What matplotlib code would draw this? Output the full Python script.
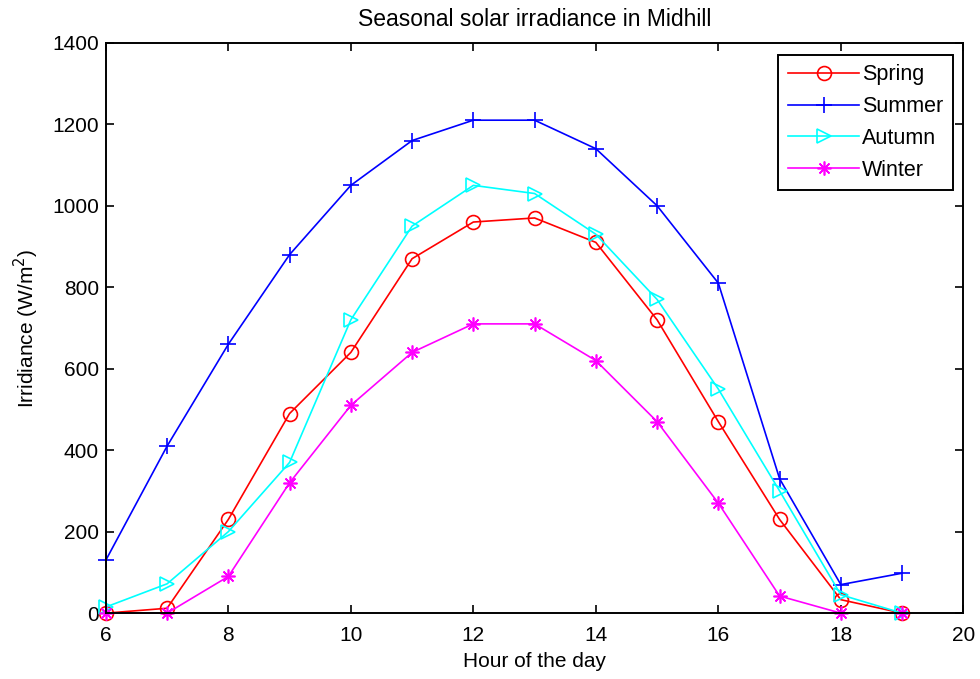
import matplotlib
matplotlib.use("Agg")
import matplotlib.pyplot as plt

plt.rcParams['font.family'] = ['Liberation Sans', 'DejaVu Sans']

hours = [6, 7, 8, 9, 10, 11, 12, 13, 14, 15, 16, 17, 18, 19]
spring = [0, 12, 230, 490, 640, 870, 960, 970, 910, 720, 470, 230, 33, 0]
summer = [130, 410, 660, 880, 1050, 1160, 1210, 1210, 1140, 1000, 810, 330, 70, 98]
autumn = [15, 72, 200, 370, 720, 950, 1050, 1030, 930, 770, 550, 300, 45, 0]
winter = [0, 0, 90, 320, 510, 640, 710, 710, 620, 470, 270, 42, 0, 0]

fs = 15

fig = plt.figure(figsize=(9.8, 6.79), dpi=100)
ax = fig.add_axes([0.108, 0.097, 0.875, 0.84])

kw = dict(linewidth=1.2, markeredgewidth=1.2, clip_on=False)
ax.plot(hours, spring, color='red', marker='o', markersize=10,
        markerfacecolor='none', label='Spring', **kw)
ax.plot(hours, summer, color='blue', marker='+', markersize=11, label='Summer', **kw)
ax.plot(hours, autumn, color='cyan', marker='>', markersize=10,
        markerfacecolor='none', label='Autumn', **kw)
# asterisk made of four strokes, like '+' and 'x' together
ax.plot(hours, winter, color='magenta', marker=(8, 2, 0), markersize=10,
        label='Winter', **kw)

ax.set_xlim(6, 20)
ax.set_ylim(0, 1400)
ax.set_xticks(range(6, 21, 2))
ax.set_yticks(range(0, 1401, 200))
ax.tick_params(direction='in', top=True, right=True, length=6, width=1.2, labelsize=fs)
ax.tick_params(axis='x', pad=9)
ax.tick_params(axis='y', pad=5)
for s in ax.spines.values():
    s.set_linewidth(1.4)

ax.set_xlabel('Hour of the day', fontsize=fs, labelpad=5)
ax.set_ylabel('Irridiance (W/m$^2$)', fontsize=fs, labelpad=8)
ax.set_title('Seasonal solar irradiance in Midhill', fontsize=16.5, pad=12)

leg = ax.legend(loc='upper right', prop={'size': 15.5}, fancybox=False, framealpha=1,
                edgecolor='black', borderpad=0.45, handlelength=3.3,
                handletextpad=0.15, labelspacing=0.5, borderaxespad=0,
                bbox_to_anchor=(1 - 10 / 857, 1 - 12 / 570))
leg.get_frame().set_linewidth(1.4)

fig.savefig('out.png', dpi=100)
